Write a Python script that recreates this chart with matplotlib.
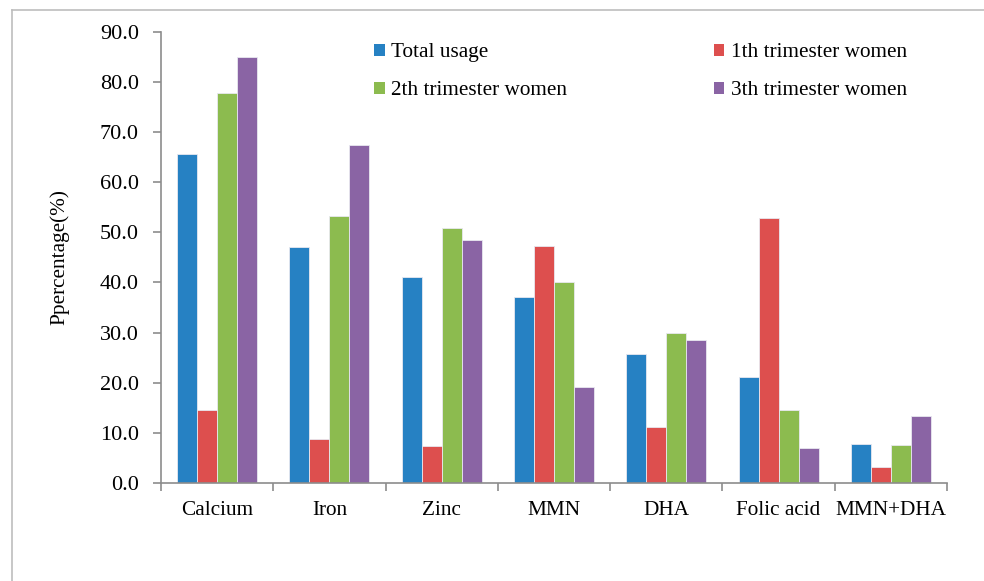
import matplotlib
matplotlib.use("Agg")
import matplotlib.pyplot as plt
from matplotlib.patches import Patch
from matplotlib.lines import Line2D
import numpy as np

plt.rcParams['font.family'] = ['Liberation Serif', 'DejaVu Serif']

categories = ["Calcium", "Iron", "Zinc", "MMN", "DHA", "Folic acid", "MMN+DHA"]
series_names = ["Total usage", "1th trimester women", "2th trimester women", "3th trimester women"]
total_usage = [65.6, 47.0, 41.0, 37.0, 25.7, 21.2, 7.8]
first_tri = [14.5, 8.8, 7.3, 47.2, 11.2, 52.9, 3.1]
second_tri = [77.7, 53.3, 50.8, 40.0, 30.0, 14.6, 7.5]
third_tri = [85.0, 67.4, 48.4, 19.1, 28.6, 7.0, 13.4]
yticks = [0, 10, 20, 30, 40, 50, 60, 70, 80, 90]

colors = ["#2681c3", "#dd4f4e", "#8cbb4f", "#8a64a4"]
data = [total_usage, first_tri, second_tri, third_tri]
fs = 15.3

fig = plt.figure(figsize=(9.84, 5.81), dpi=100)
ax = fig.add_axes([161/984, 1 - 483/581, (947 - 161)/984, (483 - 31.7)/581])

x = np.arange(len(categories))
w = 0.178
for i, (vals, c) in enumerate(zip(data, colors)):
    ax.bar(x + (i - 1.5) * w, vals, width=w, color=c, edgecolor="#e8e8f0", linewidth=0.6)

ax.set_xlim(-0.5, len(categories) - 0.5)
ax.set_ylim(0, 90)
ax.set_yticks(yticks)
ax.set_yticklabels([f"{v:.1f}" for v in yticks], fontsize=fs + 0.7)
ax.set_xticks(x)
ax.set_xticklabels(categories, fontsize=fs)
ax.set_xticks(np.arange(-0.5, len(categories), 1), minor=True)
ax.tick_params(axis='x', which='major', length=0, pad=13)
ax.tick_params(axis='x', which='minor', length=6, color="#8c8c8c", width=1.2)
ax.tick_params(axis='y', length=6, color="#8c8c8c", width=1.2, pad=10)
for s in ["top", "right"]:
    ax.spines[s].set_visible(False)
for s in ["left", "bottom"]:
    ax.spines[s].set_color("#8c8c8c")
    ax.spines[s].set_linewidth(1.2)

ax.set_ylabel("Ppercentage(%)", fontsize=fs, labelpad=22)

handles = [Patch(facecolor=c, edgecolor='none') for c in colors]
order = [0, 2, 1, 3]
leg = fig.legend([handles[i] for i in order], [series_names[i] for i in order],
                 ncol=2, loc="upper left", bbox_to_anchor=(355/984, 1 - 24/581),
                 frameon=False, fontsize=fs, handlelength=0.5, handleheight=0.5,
                 handletextpad=0.3, columnspacing=6.9, labelspacing=0.9)

# outer frame lines of the chart area
fig.add_artist(Line2D([12/984, 12/984], [0, 1 - 10/581], transform=fig.transFigure,
                      color="#bdbdbd", linewidth=1.2))
fig.add_artist(Line2D([12/984, 1], [1 - 10/581, 1 - 10/581], transform=fig.transFigure,
                      color="#bdbdbd", linewidth=1.2))

fig.savefig("out.png", dpi=100)
